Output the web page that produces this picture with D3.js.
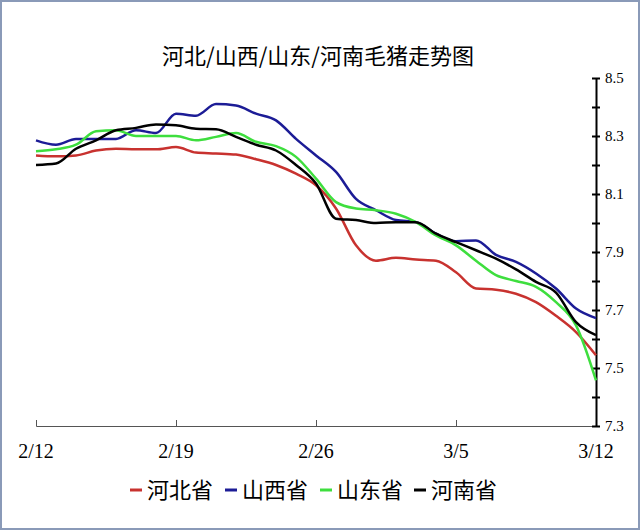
<!DOCTYPE html><html><head><meta charset="utf-8"><script src="https://cdn.jsdelivr.net/npm/d3@7"></script>
<style>body{margin:0;background:#fff}</style></head><body><svg id="c" width="640" height="530"></svg>
<script>
const dates = d3.range(29).map(i => new Date(2018,1,12+i));
const tickDates = ["2/12","2/19","2/26","3/5","3/12"];
const yTicks = [7.3,7.5,7.7,7.9,8.1,8.3,8.5];
const hebei = [8.233,8.23,8.233,8.25,8.256,8.254,8.254,8.262,8.243,8.24,8.236,8.22,8.2,8.17,8.13,8.05,7.923,7.87,7.88,7.874,7.87,7.83,7.774,7.77,7.756,7.727,7.68,7.624,7.544];
const shanxi = [8.285,8.27,8.29,8.29,8.29,8.32,8.31,8.377,8.37,8.41,8.405,8.377,8.354,8.29,8.233,8.176,8.083,8.044,8.01,8.003,7.963,7.937,7.94,7.89,7.866,7.826,7.774,7.705,7.672];
const shandong = [8.247,8.254,8.27,8.316,8.32,8.3,8.3,8.3,8.285,8.297,8.31,8.28,8.265,8.228,8.153,8.072,8.05,8.044,8.032,8.003,7.957,7.923,7.87,7.82,7.8,7.78,7.727,7.647,7.457];
const henan = [8.2,8.205,8.256,8.285,8.32,8.328,8.34,8.337,8.325,8.323,8.297,8.27,8.25,8.2,8.136,8.015,8.01,8.0,8.003,8.003,7.963,7.934,7.906,7.877,7.84,7.797,7.76,7.658,7.613];
const series = [
 {name:"河北省", values:hebei, color:"#c8322f"},
 {name:"山西省", values:shanxi, color:"#1c1c96"},
 {name:"山东省", values:shandong, color:"#3ede3e"},
 {name:"河南省", values:henan, color:"#000"}];
const svg = d3.select("#c");
svg.append("rect").attr("x",1).attr("y",1).attr("width",638).attr("height",528).attr("fill","#fff").attr("stroke","#8a9ab8").attr("stroke-width",2);
const x = d3.scaleTime().domain([dates[0],dates[28]]).range([36,596]);
const y = d3.scaleLinear().domain([7.3,8.5]).range([426,78]);
svg.append("text").attr("x",318).attr("y",64).attr("text-anchor","middle").attr("font-family","Noto Sans CJK SC").attr("font-size",22).text("河北/山西/山东/河南毛猪走势图");
const xt = [0,7,14,21,28].map(i=>dates[i]);
const xa = svg.append("g").attr("transform","translate(0,426)").call(d3.axisBottom(x).tickValues(xt).tickSize(-6).tickFormat(""));
xa.select(".domain").attr("stroke","#555");
xa.selectAll("line").attr("stroke","#555");
xt.forEach((d,i)=>svg.append("text").attr("x",x(d)).attr("y",458).attr("text-anchor","middle").attr("font-family","Liberation Serif").attr("font-size",20).text(tickDates[i]));
const ya = svg.append("g").attr("transform","translate(596,0)").call(d3.axisRight(y).tickValues(d3.range(13).map(i=>7.3+i*0.1)).tickSize(0).tickFormat(""));
ya.select(".domain").attr("stroke","#000").attr("stroke-width",2);
ya.selectAll(".tick").append("line").attr("x1",-4).attr("x2",4).attr("stroke","#000").attr("stroke-width",2);
yTicks.forEach(v=>svg.append("text").attr("x",605).attr("y",y(v)+5).attr("font-family","Liberation Serif").attr("font-size",15).text(v.toFixed(1)));
const line = d3.line().x((d,i)=>x(dates[i])).y(d=>y(d)).curve(d3.curveMonotoneX);
series.forEach(s=>svg.append("path").attr("d",line(s.values)).attr("fill","none").attr("stroke",s.color).attr("stroke-width",2.5));
const lg = svg.append("g").attr("font-family","Noto Sans CJK SC").attr("font-size",22);
const lx = [130,225,320,414];
series.forEach((s,i)=>{
 lg.append("line").attr("x1",lx[i]).attr("x2",lx[i]+12).attr("y1",490).attr("y2",490).attr("stroke",s.color).attr("stroke-width",3);
 lg.append("text").attr("x",lx[i]+17).attr("y",498).text(s.name);
});
</script></body></html>
